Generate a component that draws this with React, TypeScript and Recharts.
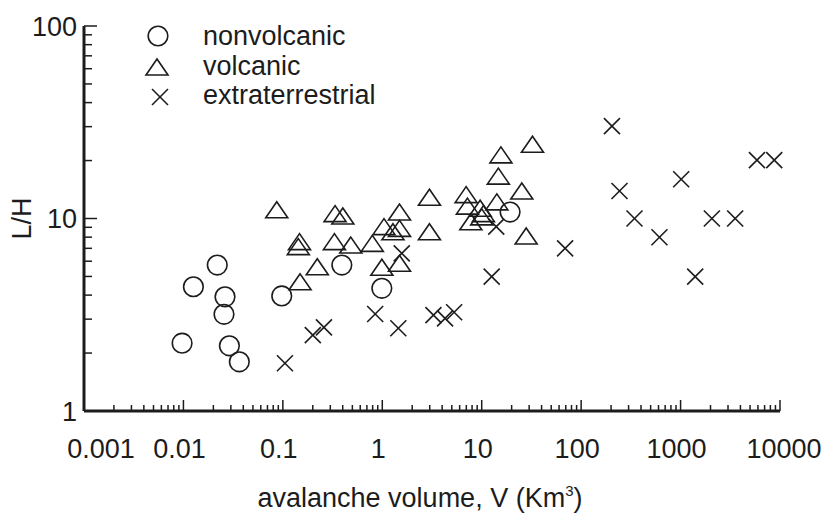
import React from "react";
import { ScatterChart, Scatter, XAxis, YAxis, Legend } from "recharts";

const INK = "#1c1c1c";
const FONT = '"Liberation Sans", Arial, sans-serif';

// nonvolcanic (circles)
const nonvolcanicV = [0.0097, 0.0126, 0.0219, 0.0262, 0.0256, 0.029, 0.0365, 0.0975, 0.392, 0.99, 19.3];
const nonvolcanicLH = [2.25, 4.42, 5.73, 3.92, 3.18, 2.18, 1.8, 3.96, 5.73, 4.34, 10.8];

// volcanic (triangles)
const volcanicV = [
	0.0868, 0.335, 0.401, 0.147, 0.143, 0.33, 0.482, 0.794, 0.222, 0.99, 0.149, 1.04, 1.49, 1.49, 1.28,
	2.98, 2.98, 1.49, 6.97, 7.18, 9.64, 10.4, 14.2, 7.77, 10.0, 15.6, 14.7, 25.3, 32.4, 28.0,
];
const volcanicLH = [
	11.1, 10.6, 10.3, 7.58, 7.14, 7.58, 7.28, 7.43, 5.62, 5.58, 4.69, 9.07, 10.8, 8.89, 8.54,
	12.9, 8.54, 5.85, 13.3, 11.6, 11.3, 10.6, 12.2, 9.62, 10.2, 21.4, 16.6, 13.9, 24.3, 8.11,
];

// extraterrestrial (crosses)
const extraV = [
	0.105, 0.2, 0.259, 0.848, 1.45, 1.57, 3.27, 4.28, 5.28, 12.6, 14.0, 69.0, 204, 243, 344, 613,
	1014, 1403, 2065, 3540, 5860, 8750,
];
const extraLH = [
	1.77, 2.48, 2.72, 3.19, 2.69, 6.59, 3.15, 3.03, 3.26, 4.99, 9.07, 7.0, 30.2, 13.9, 10.0, 7.99,
	16.0, 4.99, 10.0, 10.0, 20.1, 20.1,
];

const xMajor = [0.001, 0.01, 0.1, 1, 10, 100, 1000, 10000];
const yMajor = [1, 10, 100];

const withMinors = (majors: number[]) => {
	const out: number[] = [];
	majors.forEach((m, i) => {
		out.push(m);
		if (i < majors.length - 1) for (let k = 2; k <= 9; k++) out.push(+(m * k).toPrecision(6));
	});
	return out;
};

const toPoints = (vs: number[], lhs: number[]) => vs.map((v, i) => ({ v, lh: lhs[i] }));

const nonvolcanic = toPoints(nonvolcanicV, nonvolcanicLH);
const volcanic = toPoints(volcanicV, volcanicLH);
const extraterrestrial = toPoints(extraV, extraLH);

const isMajor = (v: number) => Math.abs(Math.log10(v) - Math.round(Math.log10(v))) < 1e-6;

const CircleMark = ({ cx, cy }: any) => (
	<circle cx={cx} cy={cy} r={9.8} fill="none" stroke={INK} strokeWidth={1.6} />
);

const TriangleMark = ({ cx, cy }: any) => (
	<polygon
		points={`${cx},${cy - 8} ${cx - 11},${cy + 8} ${cx + 11},${cy + 8}`}
		fill="none"
		stroke={INK}
		strokeWidth={1.6}
	/>
);

const CrossMark = ({ cx, cy }: any) => (
	<g stroke={INK} strokeWidth={1.6}>
		<line x1={cx - 8} y1={cy - 8} x2={cx + 8} y2={cy + 8} />
		<line x1={cx - 8} y1={cy + 8} x2={cx + 8} y2={cy - 8} />
	</g>
);

const XTick = (props: any) => {
	const { x, y, payload } = props;
	const v = payload.value;
	const major = isMajor(v);
	let dx = -4;
	if (v === 0.001) dx = 17;
	if (v === 10000) dx = 4;
	return (
		<g>
			<line x1={x} x2={x} y1={y} y2={y - (major ? 11 : 6)} stroke={INK} strokeWidth={1.5} />
			{major && (
				<text x={x + dx} y={y + 47} textAnchor="middle" fontSize={27} fontFamily={FONT} fill={INK}>
					{String(v)}
				</text>
			)}
		</g>
	);
};

const YTick = (props: any) => {
	const { x, y, payload } = props;
	const v = payload.value;
	const major = isMajor(v);
	return (
		<g>
			<line x1={x} x2={x + (major ? 13 : 8)} y1={y} y2={y} stroke={INK} strokeWidth={1.5} />
			{major && (
				<text x={x - 7} y={y} dy="0.36em" textAnchor="end" fontSize={27} fontFamily={FONT} fill={INK}>
					{String(v)}
				</text>
			)}
		</g>
	);
};

const XTitle = ({ viewBox }: any) => (
	<text
		x={viewBox.x + viewBox.width / 2 - 12}
		y={viewBox.y + 96}
		textAnchor="middle"
		fontSize={27}
		fontFamily={FONT}
		fill={INK}
	>
		avalanche volume, V (Km
		<tspan dy={-11} fontSize={15}>
			3
		</tspan>
		<tspan dy={11}>)</tspan>
	</text>
);

const YTitle = ({ viewBox }: any) => {
	const cx = 21;
	const cy = viewBox.y + viewBox.height / 2;
	return (
		<text
			x={cx}
			y={cy}
			dy="0.36em"
			transform={`rotate(-90 ${cx} ${cy})`}
			textAnchor="middle"
			fontSize={27}
			fontFamily={FONT}
			fill={INK}
		>
			L/H
		</text>
	);
};

const legendRows = [
	{ name: "nonvolcanic", Mark: CircleMark, mx: 18, my: 22, ty: 21 },
	{ name: "volcanic", Mark: TriangleMark, mx: 17, my: 53, ty: 51 },
	{ name: "extraterrestrial", Mark: CrossMark, mx: 20, my: 83, ty: 80 },
];

const LegendBox = () => (
	<svg width={300} height={110} style={{ overflow: "visible" }}>
		{legendRows.map((r) => (
			<g key={r.name}>
				<r.Mark cx={r.mx} cy={r.my} />
				<text x={63} y={r.ty} dy="0.36em" fontSize={27} fontFamily={FONT} fill={INK}>
					{r.name}
				</text>
			</g>
		))}
	</svg>
);

const App = () => {
	return (
		<div style={{ position: "absolute", left: 0, top: 0, background: "#fff" }}>
			<ScatterChart width={830} height={515} margin={{ top: 26, right: 50, left: 0, bottom: 0 }}>
				<XAxis
					type="number"
					dataKey="v"
					scale="log"
					domain={[0.001, 10000]}
					ticks={withMinors(xMajor)}
					interval={0}
					height={104}
					tickSize={0}
					tickMargin={0}
					tickLine={false}
					tick={<XTick />}
					axisLine={{ stroke: INK, strokeWidth: 3 }}
					label={<XTitle />}
				/>
				<YAxis
					type="number"
					dataKey="lh"
					scale="log"
					domain={[1, 100]}
					ticks={withMinors(yMajor)}
					interval={0}
					width={84}
					tickSize={0}
					tickMargin={0}
					tickLine={false}
					tick={<YTick />}
					axisLine={{ stroke: INK, strokeWidth: 3 }}
					label={<YTitle />}
				/>
				<Legend
					layout="vertical"
					align="center"
					verticalAlign="middle"
					wrapperStyle={{ top: 14, left: 140, width: 300 }}
					content={<LegendBox />}
				/>
				<Scatter name="nonvolcanic" data={nonvolcanic} shape={<CircleMark />} isAnimationActive={false} />
				<Scatter name="volcanic" data={volcanic} shape={<TriangleMark />} isAnimationActive={false} />
				<Scatter
					name="extraterrestrial"
					data={extraterrestrial}
					shape={<CrossMark />}
					isAnimationActive={false}
				/>
			</ScatterChart>
		</div>
	);
};

export default App;
